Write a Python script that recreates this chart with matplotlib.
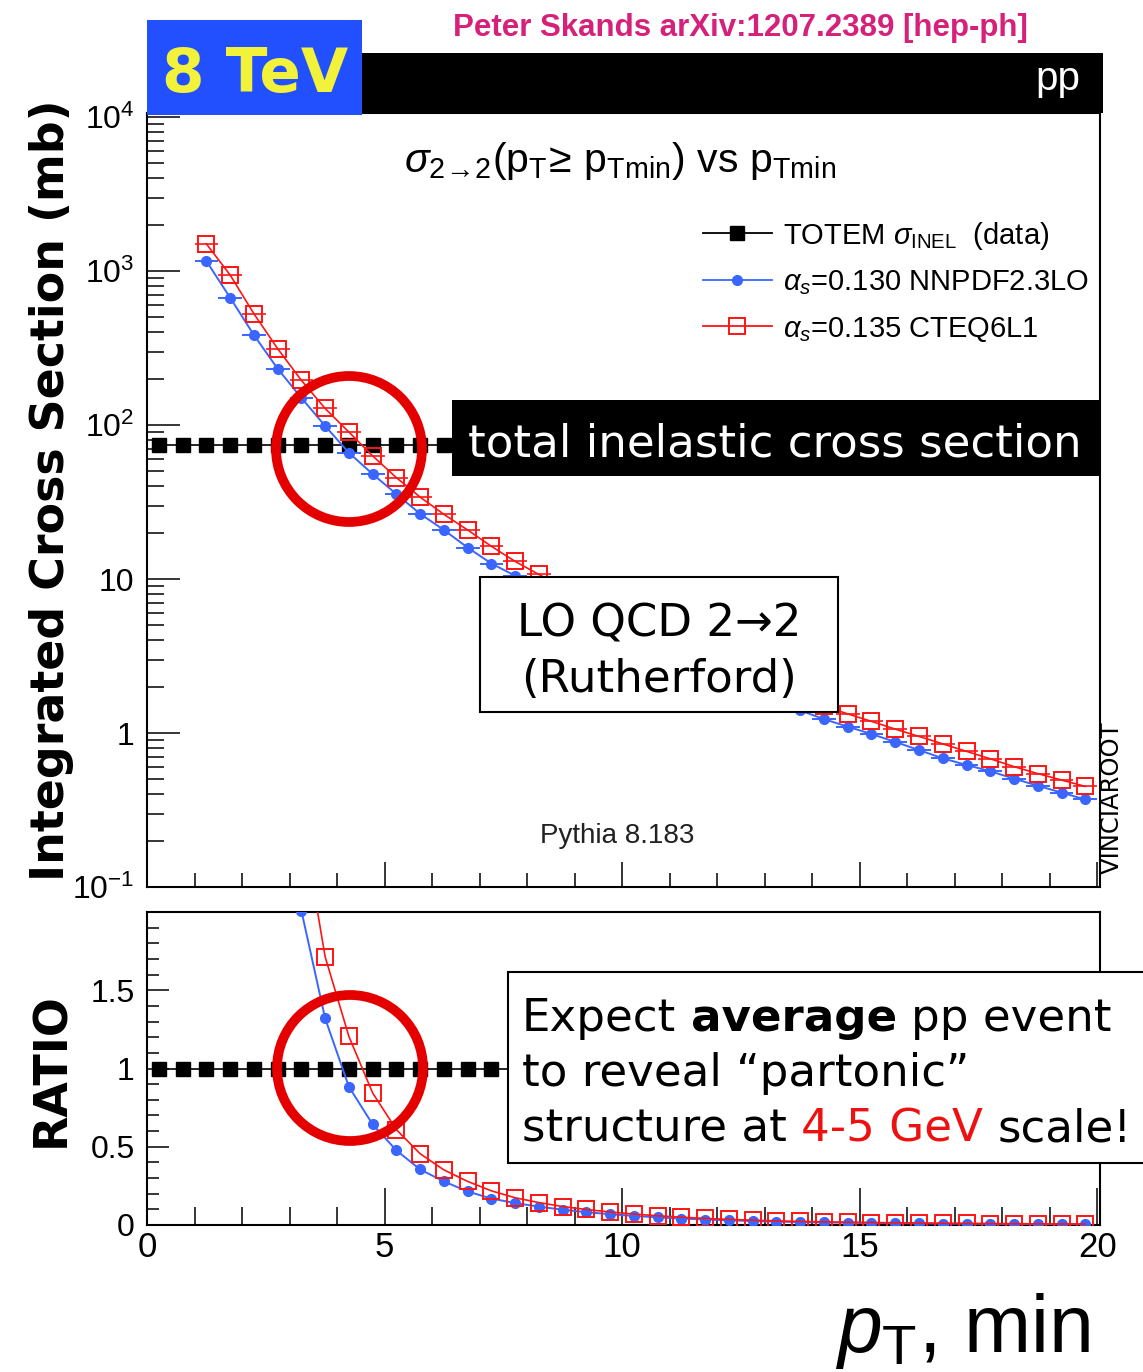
import matplotlib
matplotlib.use('Agg')
import numpy as np
import matplotlib.pyplot as plt
from matplotlib.lines import Line2D
from matplotlib.patches import Rectangle, Ellipse
from matplotlib.ticker import (FixedLocator, FixedFormatter, LogLocator,
                               MultipleLocator, NullFormatter)

plt.rcParams['font.family'] = ['Liberation Sans', 'DejaVu Sans']
plt.rcParams['mathtext.fontset'] = 'custom'
plt.rcParams['mathtext.rm'] = 'Liberation Sans'
plt.rcParams['mathtext.it'] = 'Liberation Sans:italic'
plt.rcParams['mathtext.bf'] = 'Liberation Sans:bold'
plt.rcParams['mathtext.sf'] = 'Liberation Sans'

# ---------------------------------------------------------------- data
# lower pT cut of the 2->2 cross section (bin centres, GeV)
pt_min = [1.25, 1.75, 2.25, 2.75, 3.25, 3.75, 4.25, 4.75, 5.25, 5.75,
          6.25, 6.75, 7.25, 7.75, 8.25, 8.75, 9.25, 9.75, 10.25, 10.75,
          11.25, 11.75, 12.25, 12.75, 13.25, 13.75, 14.25, 14.75, 15.25, 15.75,
          16.25, 16.75, 17.25, 17.75, 18.25, 18.75, 19.25, 19.75]
bin_half_width = 0.25

# integrated sigma(pT >= pTmin) in mb, alpha_s = 0.130 NNPDF2.3LO
sigma_nnpdf = [1160, 671, 384, 232, 150, 98.6, 66.0, 48.0, 35.6, 26.5,
               20.8, 16.0, 12.6, 10.5, 8.75, 7.31, 6.12, 5.14, 4.33, 3.65,
               3.09, 2.62, 2.23, 1.91, 1.63, 1.40, 1.23, 1.10, 0.985, 0.875,
               0.775, 0.685, 0.62, 0.565, 0.505, 0.455, 0.41, 0.37]

# integrated sigma(pT >= pTmin) in mb, alpha_s = 0.135 CTEQ6L1
sigma_cteq = [1500, 942, 528, 313, 195, 128, 90.0, 63.0, 45.5, 34.0,
              26.3, 20.8, 16.3, 13.0, 10.7, 8.8, 7.4, 6.2, 5.2, 4.4,
              3.72, 3.15, 2.68, 2.29, 1.97, 1.70, 1.50, 1.33, 1.19, 1.06,
              0.95, 0.85, 0.76, 0.68, 0.605, 0.545, 0.495, 0.45]

# TOTEM inelastic cross section at 8 TeV (mb), drawn as a flat reference
totem_pt = [0.25, 0.75, 1.25, 1.75, 2.25, 2.75, 3.25, 3.75, 4.25, 4.75,
            5.25, 5.75, 6.25, 6.75, 7.25, 7.75, 8.25, 8.75, 9.25, 9.75,
            10.25, 10.75, 11.25, 11.75, 12.25, 12.75, 13.25, 13.75, 14.25, 14.75,
            15.25, 15.75, 16.25, 16.75, 17.25, 17.75, 18.25, 18.75, 19.25, 19.75]
sigma_inel_totem = 74.7

y_ticks_top = [0.1, 1, 10, 100, 1000, 10000]
y_labels_top = [r'$10^{-1}$', '1', '10', r'$10^{2}$', r'$10^{3}$', r'$10^{4}$']
y_ticks_ratio = [0, 0.5, 1, 1.5]
y_labels_ratio = ['0', '0.5', '1', '1.5']
x_ticks = [0, 5, 10, 15, 20]
x_labels = ['0', '5', '10', '15', '20']

ratio_nnpdf = [s / sigma_inel_totem for s in sigma_nnpdf]
ratio_cteq = [s / sigma_inel_totem for s in sigma_cteq]
totem_top = [sigma_inel_totem for _ in totem_pt]
totem_ratio = [sigma_inel_totem / sigma_inel_totem for _ in totem_pt]

# ---------------------------------------------------------------- style
BLUE = '#3a66ff'
RED = '#ff1414'
RING = '#e50000'

W, H, DPI = 1143, 1372, 100


def fx(px):
    return px / W


def fy(py):
    return 1 - py / H


fig = plt.figure(figsize=(W / DPI, H / DPI), dpi=DPI)
fig.patch.set_facecolor('white')

ax1 = fig.add_axes([fx(147), fy(887), fx(1100) - fx(147), fy(113) - fy(887)])
ax2 = fig.add_axes([fx(147), fy(1225), fx(1100) - fx(147), fy(912) - fy(1225)])

# ---------------------------------------------------------------- top panel
ax1.set_yscale('log')
ax1.plot(totem_pt, totem_top, color='black', lw=1.2, marker='s', ms=10.5,
         mfc='black', mec='black', zorder=2)
ax1.errorbar(pt_min, sigma_nnpdf, xerr=bin_half_width, fmt='-o', color=BLUE,
             lw=1.4, ms=7, elinewidth=1.4, capsize=0, zorder=3)
ax1.errorbar(pt_min, sigma_cteq, xerr=bin_half_width, fmt='-s', color=RED,
             lw=1.2, ms=11, mfc='none', mec=RED, mew=1.4, elinewidth=1.2,
             capsize=0, zorder=4)
ax1.set_xlim(0, 20.06)
ax1.set_ylim(0.1, 10 ** 4.026)

ax1.yaxis.set_major_locator(FixedLocator(y_ticks_top))
ax1.yaxis.set_major_formatter(FixedFormatter(y_labels_top))
ax1.yaxis.set_minor_locator(LogLocator(base=10, subs=np.arange(2, 10) * 1.0, numticks=30))
ax1.yaxis.set_minor_formatter(NullFormatter())
ax1.xaxis.set_major_locator(MultipleLocator(5))
ax1.xaxis.set_minor_locator(MultipleLocator(1))

# ---------------------------------------------------------------- ratio panel
ax2.plot(totem_pt, totem_ratio, color='black', lw=1.2, marker='s', ms=10.5,
         mfc='black', mec='black', zorder=2)
ax2.plot(pt_min, ratio_nnpdf, '-o', color=BLUE, lw=1.4, ms=7, zorder=3)
ax2.plot(pt_min, ratio_cteq, '-s', color=RED, lw=1.2, ms=11, mfc='none',
         mec=RED, mew=1.4, zorder=4)
ax2.set_xlim(0, 20.06)
ax2.set_ylim(0, 2.0)
ax2.yaxis.set_major_locator(FixedLocator(y_ticks_ratio))
ax2.yaxis.set_major_formatter(FixedFormatter(y_labels_ratio))
ax2.yaxis.set_minor_locator(MultipleLocator(0.1))
ax2.xaxis.set_major_locator(FixedLocator(x_ticks))
ax2.xaxis.set_major_formatter(FixedFormatter(x_labels))
ax2.xaxis.set_minor_locator(MultipleLocator(1))

for ax in (ax1, ax2):
    ax.tick_params(which='both', direction='in', top=False, right=False,
                   width=1.1, colors='black')
    for sp in ax.spines.values():
        sp.set_linewidth(1.5)
    ax.set_facecolor('white')

ax1.tick_params(axis='x', which='both', labelbottom=False)
ax1.tick_params(axis='x', which='major', length=18)
ax1.tick_params(axis='x', which='minor', length=10)
ax1.tick_params(axis='y', which='major', length=23.8, pad=9, labelsize=23)
ax1.tick_params(axis='y', which='minor', length=12)

ax2.tick_params(axis='x', which='major', length=26.6, pad=4, labelsize=25)
ax2.tick_params(axis='x', which='minor', length=13)
ax2.tick_params(axis='y', which='major', length=16, pad=9, labelsize=23)
ax2.tick_params(axis='y', which='minor', length=8.6)

# ---------------------------------------------------------------- header
fig.add_artist(Rectangle((fx(362), fy(113)), fx(1103) - fx(362), fy(53) - fy(113),
                         transform=fig.transFigure, facecolor='black',
                         edgecolor='none', zorder=6))
fig.add_artist(Rectangle((fx(147), fy(115)), fx(362) - fx(147), fy(20) - fy(115),
                         transform=fig.transFigure, facecolor='#2250ff',
                         edgecolor='none', zorder=7))
fig.text(fx(255), fy(92), '8 TeV', color='#f2f23a', fontsize=44,
         fontweight='bold', family='DejaVu Sans', ha='center', va='baseline',
         zorder=8)
fig.text(fx(1080), fy(90), 'pp', color='white', fontsize=29, ha='right',
         va='baseline', zorder=8)
fig.text(fx(740), fy(36), 'Peter Skands arXiv:1207.2389 [hep-ph]',
         color='#d6217a', fontsize=22.5, fontweight='bold', ha='center',
         va='baseline', zorder=8)

fig.text(fx(620), fy(172),
         r'$\sigma_{2\!\rightarrow\!2}(\mathrm{p}_{\mathrm{T}}\!\geq\,\mathrm{p}_{\mathrm{Tmin}})$ vs $\mathrm{p}_{\mathrm{Tmin}}$',
         fontsize=29.5, ha='center', va='baseline', zorder=8)

# ---------------------------------------------------------------- legend
legend_rows = [
    (233, r'TOTEM $\sigma_{\mathrm{INEL}}$  (data)',
     dict(color='black', marker='s', ms=9.5, mfc='black', mec='black')),
    (280, r'$\alpha_{s}$=0.130 NNPDF2.3LO',
     dict(color=BLUE, marker='o', ms=7, mfc=BLUE, mec=BLUE)),
    (326, r'$\alpha_{s}$=0.135 CTEQ6L1',
     dict(color=RED, marker='s', ms=11, mfc='none', mec=RED, mew=1.4)),
]
for y, label, style in legend_rows:
    fig.add_artist(Line2D([fx(703), fx(772)], [fy(y), fy(y)],
                          transform=fig.transFigure, color=style['color'],
                          lw=1.3, zorder=8))
    fig.add_artist(Line2D([fx(737)], [fy(y)], transform=fig.transFigure,
                          linestyle='none', zorder=9, **style))
    fig.text(fx(783), fy(y + 10.5), label, fontsize=21, ha='left',
             va='baseline', zorder=8)

# ---------------------------------------------------------------- annotations
fig.add_artist(Rectangle((fx(452), fy(476)), fx(1100) - fx(452), fy(400) - fy(476),
                         transform=fig.transFigure, facecolor='black',
                         edgecolor='none', zorder=6))
fig.text(fx(468), fy(457), 'total inelastic cross section', color='white',
         fontsize=32.5, family='DejaVu Sans', ha='left', va='baseline', zorder=8)

fig.add_artist(Rectangle((fx(480), fy(712)), fx(838) - fx(480), fy(577) - fy(712),
                         transform=fig.transFigure, facecolor='white',
                         edgecolor='black', lw=1.5, zorder=6))
fig.text(fx(659), fy(637), 'LO QCD 2→2', fontsize=32.5, family='DejaVu Sans',
         ha='center', va='baseline', zorder=8)
fig.text(fx(659), fy(692), '(Rutherford)', fontsize=32.5, family='DejaVu Sans',
         ha='center', va='baseline', zorder=8)

fig.text(fx(540), fy(843), 'Pythia 8.183', fontsize=20, color='#222222',
         ha='left', va='baseline', zorder=8)
fig.text(fx(1112), fy(798), 'VINCIAROOT', rotation=90, fontsize=17.5,
         family='DejaVu Sans', ha='center', va='center', zorder=8)

fig.add_artist(Rectangle((fx(508), fy(1163)), fx(1150) - fx(508), fy(972) - fy(1163),
                         transform=fig.transFigure, facecolor='white',
                         edgecolor='black', lw=1.5, zorder=6))

renderer = fig.canvas.get_renderer()


def advance(s, **props):
    t = fig.text(0, 0, '|' + s + '|', **props)
    w1 = t.get_window_extent(renderer).width
    t.remove()
    t = fig.text(0, 0, '||', **props)
    w2 = t.get_window_extent(renderer).width
    t.remove()
    return w1 - w2


def draw_runs(x_px, y_px, runs, size):
    x = x_px
    for s, weight, color in runs:
        props = dict(fontsize=size, fontweight=weight, family='DejaVu Sans')
        if s.strip():
            fig.text(fx(x), fy(y_px), s, color=color, ha='left',
                     va='baseline', zorder=8, **props)
        x += advance(s, **props)


note_size = 32.5
draw_runs(522, 1031, [('Expect', 'normal', 'black'), (' ', 'normal', 'black'),
                      ('average', 'bold', 'black'), (' ', 'normal', 'black'),
                      ('pp event', 'normal', 'black')], note_size)
draw_runs(522, 1086, [('to reveal “partonic”', 'normal', 'black')], note_size)
draw_runs(522, 1141, [('structure at', 'normal', 'black'), (' ', 'normal', 'black'),
                      ('4-5 GeV', 'normal', '#ee1111'), (' ', 'normal', 'black'),
                      ('scale!', 'normal', 'black')], note_size)

# rings around the crossing with the inelastic cross section
for cx, cy in [(349, 449), (350, 1068)]:
    fig.add_artist(Ellipse((fx(cx), fy(cy)), width=2 * 73 / W, height=2 * 73 / H,
                           transform=fig.transFigure, facecolor='none',
                           edgecolor=RING, lw=7.0, zorder=10))

# ---------------------------------------------------------------- axis titles
fig.text(fx(52), fy(490), 'Integrated Cross Section (mb)', rotation=90,
         fontsize=33, fontweight='bold', family='DejaVu Sans', ha='center',
         va='center')
fig.text(fx(52), fy(1070), 'RATIO', rotation=90, fontsize=33,
         fontweight='bold', family='DejaVu Sans', ha='center', va='center')
fig.text(fx(1090), fy(1352), r'$p_{\mathrm{T}}$, min', fontsize=58,
         ha='right', va='baseline')

fig.savefig('out.png', dpi=DPI, facecolor='white')
